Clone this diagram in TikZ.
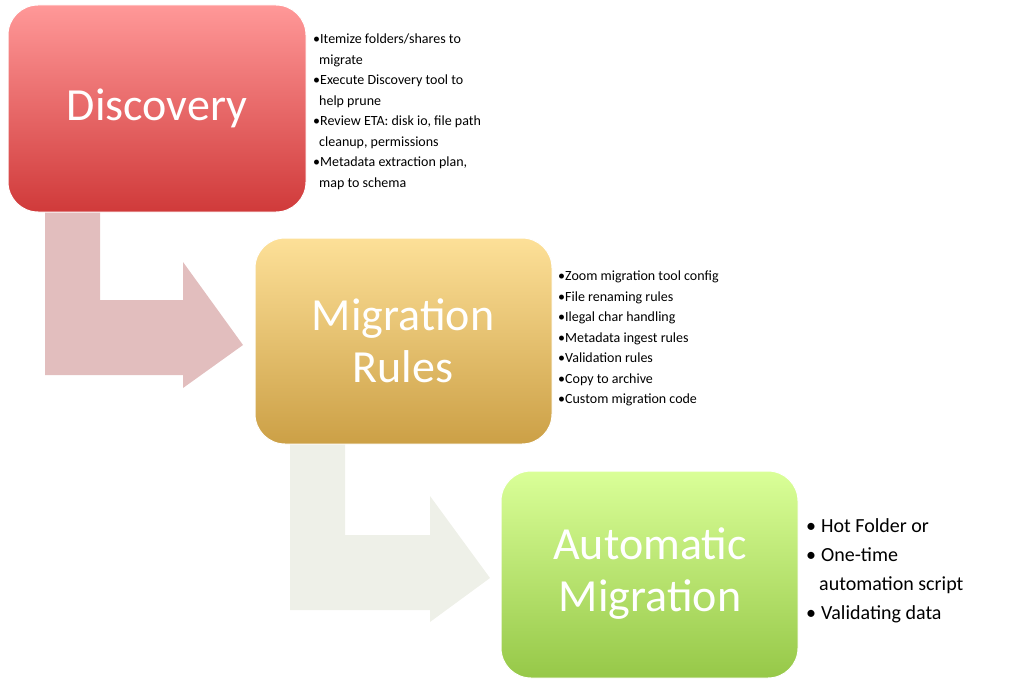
\documentclass[tikz,border=0pt]{standalone}
\usepackage{fontspec}
\setmainfont{Carlito}
\begin{document}
\begin{tikzpicture}[x=1pt,y=-1pt,
 box/.style={rounded corners=30pt,draw=white,line width=1pt},
 big/.style={text=white,font=\fontsize{46}{52}\selectfont,align=center},
 note/.style={anchor=north west,align=left,font=\fontsize{14}{20.5}\selectfont,inner sep=0pt},
 note2/.style={anchor=north west,align=left,font=\fontsize{20}{29}\selectfont,inner sep=0pt}]
\useasboundingbox (0,0) rectangle (1024,687);
% arrows
\fill[fill={rgb,255:red,226;green,190;blue,190}] (45,210) -- (100,210) -- (100,300) -- (183,300) -- (183,262) -- (243,345) -- (183,388) -- (183,375) -- (45,375) -- cycle;
\fill[fill={rgb,255:red,238;green,240;blue,232}] (290,444) -- (345,444) -- (345,535) -- (430,535) -- (430,496) -- (490,578) -- (430,622) -- (430,610) -- (290,610) -- cycle;
% boxes
\path[box,top color={rgb,255:red,255;green,152;blue,152},bottom color={rgb,255:red,208;green,58;blue,58}] (8,5) rectangle (306,212);
\path[box,top color={rgb,255:red,253;green,224;blue,152},bottom color={rgb,255:red,204;green,160;blue,70}] (255,238) rectangle (552,444);
\path[box,top color={rgb,255:red,218;green,255;blue,152},bottom color={rgb,255:red,150;green,200;blue,72}] (501,471) rectangle (798,678);
\node[big] (d) at (157,108) {Discovery};
\node[big] (m) at (403,341) {Migration\\Rules};
\node[big] (a) at (650,574) {Automatic\\Migration};
\node[note] (dn) at (313,34) {•Itemize folders/shares to\\\hspace{6pt}migrate\\•Execute Discovery tool to\\\hspace{6pt}help prune\\•Review ETA: disk io, file path\\\hspace{6pt}cleanup, permissions\\•Metadata extraction plan,\\\hspace{6pt}map to schema};
\node[note] (mn) at (558,271) {•Zoom migration tool config\\•File renaming rules\\•Ilegal char handling\\•Metadata ingest rules\\•Validation rules\\•Copy to archive\\•Custom migration code};
\node[note2] (an) at (806,518) {•\hspace{5pt}Hot Folder or\\•\hspace{5pt}One-time\\\hspace{13pt}automation script\\•\hspace{5pt}Validating data};
\end{tikzpicture}
\end{document}
